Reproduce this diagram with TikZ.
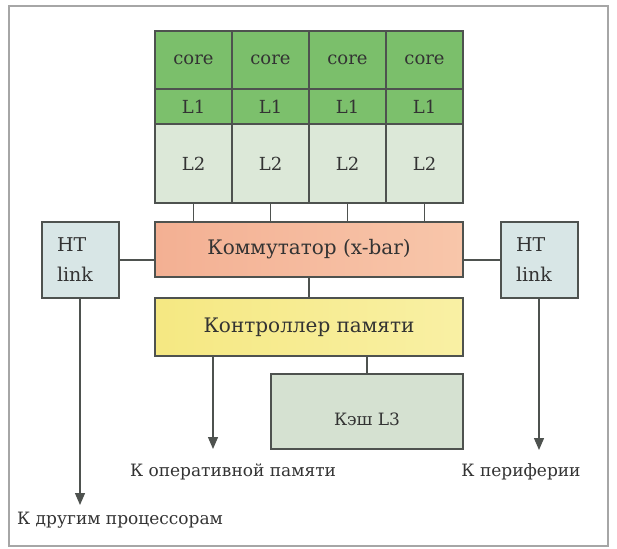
\documentclass[tikz,border=0pt]{standalone}
\usepackage{fontspec}
\setmainfont{DejaVu Serif}
\usetikzlibrary{arrows.meta}
\definecolor{coreg}{HTML}{7BBF6B}
\definecolor{l1g}{HTML}{7CC06C}
\definecolor{l2g}{HTML}{DCE8D8}
\definecolor{komL}{HTML}{F3B093}
\definecolor{komR}{HTML}{F8C6AA}
\definecolor{ctlL}{HTML}{F5E882}
\definecolor{ctlR}{HTML}{F9F0A4}
\definecolor{htc}{HTML}{D8E6E6}
\definecolor{l3c}{HTML}{D5E1D1}
\definecolor{edge}{HTML}{4E524F}
\definecolor{txt}{HTML}{333333}
\definecolor{frame}{HTML}{A6A6A6}
\begin{document}
\begin{tikzpicture}[x=1pt,y=-1pt,
  box/.style={draw=edge, line width=1.3pt, inner sep=0pt, text=txt, font=\fontsize{20}{29}\selectfont},
  cell/.style={box, minimum width=77pt, font=\fontsize{18}{25}\selectfont},
  htbox/.style={box, fill=htc, minimum width=77pt, minimum height=76pt, text width=47pt, align=left, font=\fontsize{19}{30}\selectfont},
  wire/.style={draw=edge, line width=1.3pt},
  arr/.style={wire, -{Triangle[width=10pt,length=12pt]}},
  lbl/.style={text=txt, inner sep=0pt, font=\fontsize{17}{24}\selectfont}]
\useasboundingbox (0,0) rectangle (617,548);
\draw[draw=frame, line width=1.2pt] (9,6) rectangle (608,546);

% core grid
\foreach \i/\x in {1/193.5,2/270.5,3/347.5,4/424.5}{
  \node[cell, fill=coreg, minimum height=58pt] (core\i) at (\x,60) {core};
  \node[cell, fill=l1g, minimum height=35pt] (la\i) at (\x,106.5) {L1};
  \node[cell, fill=l2g, minimum height=79pt] (lb\i) at (\x,163.5) {L2};
}

% main blocks
\node[box, left color=komL, right color=komR, minimum width=308pt, minimum height=55pt] (komm) at (309,249.5) {Коммутатор (x-bar)};
\node[box, left color=ctlL, right color=ctlR, minimum width=308pt, minimum height=58pt] (kontr) at (309,327) {Контроллер памяти};
\node[htbox] (htl) at (80.5,260) {HT\\link};
\node[htbox] (htr) at (539.5,260) {HT\\link};
\node[box, fill=l3c, minimum width=192pt, minimum height=75pt,
  label={[text=txt, font=\fontsize{17}{24}\selectfont, yshift=-8pt]center:Кэш L3}] (l3) at (367,411.5) {};

% connectors
\foreach \i in {1,2,3,4}{
  \draw[wire] (lb\i.south) -- (lb\i.south |- komm.north);
}
\draw[wire] (htl.east) -- (htl.east -| komm.west);
\draw[wire] (htr.west) -- (htr.west -| komm.east);
\draw[wire] (komm.south) -- (kontr.north);
\coordinate (memtip) at (213,449);
\coordinate (proctip) at (80,505);
\coordinate (pertip) at (539,450);
\draw[arr] (kontr.south -| memtip) -- (memtip);
\draw[wire] (kontr.south -| l3.north) -- (l3.north);
\draw[arr] (htl.south -| proctip) -- (proctip);
\draw[arr] (htr.south -| pertip) -- (pertip);

% labels
\node[lbl] (tomem) at (233,472) {К оперативной памяти};
\node[lbl, anchor=west] (toproc) at (17,520) {К другим процессорам};
\node[lbl] (toper) at (521,472) {К периферии};
\end{tikzpicture}
\end{document}
